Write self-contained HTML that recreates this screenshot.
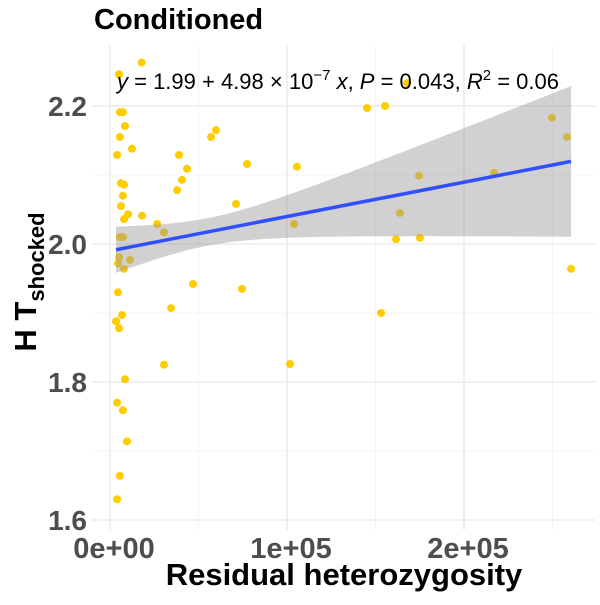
<!DOCTYPE html>
<html><head><meta charset="utf-8"><style>
body{margin:0;background:#fff}
svg text{font-family:"Liberation Sans",sans-serif}
</style></head><body>
<svg id="c" width="600" height="600" xmlns="http://www.w3.org/2000/svg">
<text x="94" y="29" font-size="29" font-weight="bold" fill="#000">Conditioned</text>
<g id="grid"></g><g id="pts"></g><g id="fit"></g><g id="ticks"></g>
<text x="117" y="89" font-size="22" fill="#000"><tspan font-style="italic">y</tspan> = 1.99 + 4.98 × 10<tspan dy="-9" font-size="15">−7</tspan><tspan dy="9"> </tspan><tspan font-style="italic">x</tspan>, <tspan font-style="italic">P</tspan> = 0.043, <tspan font-style="italic">R</tspan><tspan dy="-9" font-size="15">2</tspan><tspan dy="9"> = 0.06</tspan></text>
<text x="344" y="585" font-size="31" font-weight="bold" text-anchor="middle" fill="#000">Residual heterozygosity</text>
<text transform="translate(36,282) rotate(-90)" font-size="31" font-weight="bold" text-anchor="middle" fill="#000">H T<tspan dy="8" font-size="22">shocked</tspan></text>
</svg>
<script>
const xs=[17.9,5.1,5.6,7.3,8.5,5.6,12.4,4.0,39.0,43.5,40.7,37.9,6.2,7.9,7.3,6.2,10.2,18.1,7.9,26.6,30.5,5.6,7.3,5.1,11.3,4.5,7.9,4.5,46.9,34.5,6.8,3.4,5.1,30.5,8.5,4.0,7.3,9.6,5.6,4.0,59.9,57.1,77.4,71.2,74.6,105.6,104.0,101.7,145.2,155.4,167.8,153.1,163.8,161.6,174.6,175.1,217.0,249.7,258.2,260.5];
const ys=[2.263,2.246,2.191,2.191,2.171,2.155,2.138,2.129,2.129,2.109,2.093,2.078,2.088,2.086,2.070,2.055,2.043,2.041,2.036,2.029,2.017,2.010,2.010,1.981,1.977,1.972,1.964,1.930,1.942,1.907,1.897,1.888,1.878,1.825,1.804,1.770,1.759,1.714,1.664,1.630,2.165,2.155,2.116,2.058,1.935,2.112,2.029,1.826,2.197,2.200,2.233,1.900,2.045,2.007,2.099,2.009,2.103,2.183,2.155,1.964];
const xTickVals=[0,100000,200000], xTickLabels=["0e+00","1e+05","2e+05"];
const yTickVals=[1.6,1.8,2.0,2.2], yTickLabels=["1.6","1.8","2.0","2.2"];
const intercept=1.99, slope=4.98e-7;
const X=v=>110+v/1e5*177, Y=v=>244-(v-2)/0.2*138;
const NS="http://www.w3.org/2000/svg";
function mk(p,t,a){const e=document.createElementNS(NS,t);for(const k in a)e.setAttribute(k,a[k]);p.appendChild(e);return e;}
const g=document.getElementById('grid');
[0.5e5,1.5e5,2.5e5].forEach(v=>{const l=mk(g,'line',{x1:X(v),x2:X(v),y1:45,y2:530,stroke:'#f2f2f2','stroke-width':0.8});});
[1.7,1.9,2.1].forEach(v=>{const l=mk(g,'line',{x1:92,x2:595,y1:Y(v),y2:Y(v),stroke:'#f2f2f2','stroke-width':0.8});});
xTickVals.forEach(v=>{const l=mk(g,'line',{x1:X(v),x2:X(v),y1:45,y2:530,stroke:'#ebebeb','stroke-width':1.6});});
yTickVals.forEach(v=>{const l=mk(g,'line',{x1:92,x2:595,y1:Y(v),y2:Y(v),stroke:'#ebebeb','stroke-width':1.6});});
const p=document.getElementById('pts');
xs.forEach((x,i)=>{const c=mk(p,'circle',{cx:X(x*1000),cy:Y(ys[i]),r:4,fill:'#ffcc00'});});
const f=document.getElementById('fit');
const xmin=Math.min(...xs)*1000,xmax=Math.max(...xs)*1000;
const se=x=>Math.sqrt(0.0004+2.73e-13*(x-55000)**2);
let up=[],lo=[];
for(let i=0;i<=60;i++){const x=xmin+(xmax-xmin)*i/60,yy=intercept+slope*x;up.push(X(x)+','+Y(yy+se(x)));lo.unshift(X(x)+','+Y(yy-se(x)));}
const band=mk(f,'polygon',{points:up.concat(lo).join(' '),fill:'#999',opacity:0.45});


const ln=mk(f,'line',{x1:X(xmin),y1:Y(intercept+slope*xmin),x2:X(xmax),y2:Y(intercept+slope*xmax),stroke:'#3050ff','stroke-width':3.5});


const t=document.getElementById('ticks');
xTickVals.forEach((v,i)=>{const e=mk(t,'text',{x:X(v)+4,y:558,'font-size':29,'font-weight':'bold','text-anchor':'middle',fill:'#4d4d4d'});e.textContent=xTickLabels[i];});
yTickVals.forEach((v,i)=>{const e=mk(t,'text',{x:87,y:Y(v)+10,'font-size':28,'font-weight':'bold','text-anchor':'end',fill:'#4d4d4d'});e.textContent=yTickLabels[i];});
</script>
</body></html>
